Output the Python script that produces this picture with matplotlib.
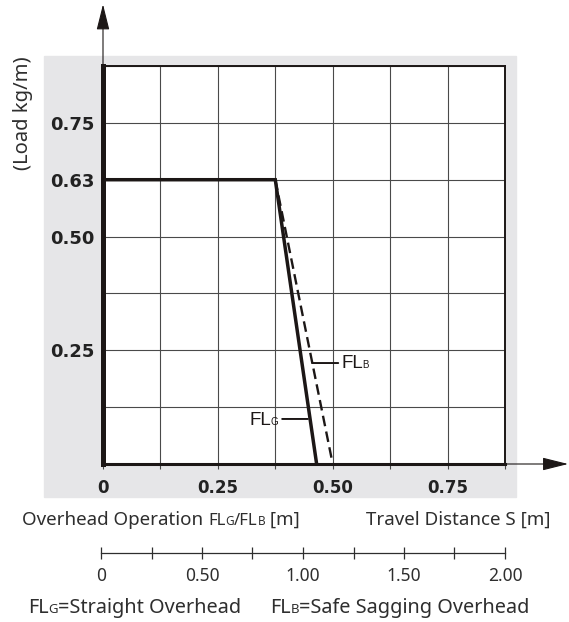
import numpy as np
import matplotlib
matplotlib.use("Agg")
import matplotlib.pyplot as plt
from matplotlib.patches import Rectangle
from matplotlib.transforms import IdentityTransform
from matplotlib.ticker import MultipleLocator

# chart values
load_ticks = [0.25, 0.5, 0.625, 0.75]
load_labels = ["0.25", "0.50", "0.63", "0.75"]
stroke_ticks = [0, 0.25, 0.5, 0.75]
stroke_labels = ["0", "0.25", "0.50", "0.75"]
flg_x = [0, 0.375, 0.465]
flg_y = [0.625, 0.625, 0]
flb_x = [0.375, 0.5]
flb_y = [0.625, 0]
travel_ticks = [0, 0.5, 1.0, 1.5, 2.0]
travel_labels = ["0", "0.50", "1.00", "1.50", "2.00"]

W, H = 569, 622
INK = "#1c1716"
LIGHT = "#2e2e2e"
LIGHT_FONT = dict(family="Noto Sans", fontweight="light", color=LIGHT)

fig = plt.figure(figsize=(W / 100, H / 100), dpi=100)
renderer = fig.canvas.get_renderer()


def fx(px):
    return px / W


def fy(py):
    return 1 - py / H


def pieces(x_px, y_px, parts, ha="left", kern=0.0, **kw):
    # draw consecutive text runs on a common baseline (pixel coords, origin top-left)
    texts = []
    cur = x_px
    for s, size in parts:
        t = fig.text(cur, H - y_px, s, transform=IdentityTransform(),
                     fontsize=size, va="baseline", ha="left", **kw)
        cur += t.get_window_extent(renderer).width + kern
        texts.append(t)
    if ha == "right":
        shift = cur - kern - x_px
        for t in texts:
            t.set_x(t.get_position()[0] - shift)
    return texts


# grey panel behind the chart
fig.patches.append(Rectangle((fx(44), fy(497)), (516 - 44) / W, (497 - 56) / H,
                             transform=fig.transFigure, color="#e6e6e8", zorder=-5))

ax = fig.add_axes([fx(103), fy(464), (505 - 103) / W, (464 - 66) / H], zorder=2)
ax.set_facecolor("white")
ax.set_xlim(0, 0.875)
ax.set_ylim(0, 0.875)

ax.xaxis.set_minor_locator(MultipleLocator(0.125))
ax.yaxis.set_minor_locator(MultipleLocator(0.125))
ax.set_xticks(stroke_ticks, stroke_labels)
ax.set_yticks(load_ticks, load_labels)
ax.grid(which="both", color="#4a4a4a", lw=0.8)
ax.set_axisbelow(True)

ax.tick_params(axis="x", which="both", direction="out", length=3.5, width=0.8,
               color="#4a4a4a", pad=7)
ax.tick_params(axis="x", labelsize=12)
ax.tick_params(axis="y", which="both", length=0, pad=5.8, labelsize=13)
for lab in ax.get_xticklabels() + ax.get_yticklabels():
    lab.set_fontweight("bold")
    lab.set_color("#222222")

for side, w in [("left", 3.6), ("bottom", 2.2), ("top", 1.4), ("right", 1.4)]:
    ax.spines[side].set_linewidth(w)
    ax.spines[side].set_color(INK)

ax.plot(flg_x, flg_y, color=INK, lw=2.5, solid_joinstyle="miter", clip_on=False, zorder=5)
ax.plot(flb_x, flb_y, color=INK, lw=1.7, ls=(0, (4.5, 2.3)), clip_on=False, zorder=4)

# axis arrows
arrow = dict(arrowstyle="-|>,head_length=1.6,head_width=0.4", mutation_scale=10,
             lw=0.8, color=INK, shrinkA=0, shrinkB=0)
ax.annotate("", xy=(0, 1.155), xytext=(0, 1.0), xycoords="axes fraction", arrowprops=arrow)
ax.annotate("", xy=(1.157, 0), xytext=(1.0, 0), xycoords="axes fraction", arrowprops=arrow)

# leader lines for the curve labels
leader = dict(arrowstyle="-", lw=1.4, color=INK, shrinkA=0, shrinkB=0)
ax.annotate("", xy=(0.455, 0.222), xytext=(0.512, 0.222), arrowprops=leader)
ax.annotate("", xy=(0.390, 0.099), xytext=(0.446, 0.099), arrowprops=leader)

lab_font = dict(family="Liberation Sans", color=INK, zorder=6)
bx, by = ax.transData.transform((0.520, 0.211))
pieces(bx, H - by, [("FL", 13.5), ("B", 7)], kern=-1.0, **lab_font)
gx, gy = ax.transData.transform((0.381, 0.0857))
pieces(gx, H - gy, [("FL", 13.5), ("G", 7)], ha="right", kern=-1.0, **lab_font)

# y axis title
fig.text(fx(23), fy(113), "(Load kg/m)", rotation=90, ha="center", va="center",
         fontsize=14.5, **LIGHT_FONT)

# x axis captions
pieces(22, 525, [("Overhead Operation ", 13.5), ("FL", 12), ("G", 8.5), ("/FL", 12),
                 ("B", 8.5), (" [m]", 13.5)], **LIGHT_FONT)
pieces(551, 525, [("Travel Distance S [m]", 13.5)], ha="right", **LIGHT_FONT)

# second scale for travel distance
ax2 = fig.add_axes([fx(101), fy(553), (505 - 101) / W, 0.0001])
ax2.set_xlim(0, 2.0)
ax2.set_ylim(0, 1)
ax2.set_facecolor("none")
for side in ["left", "right", "top"]:
    ax2.spines[side].set_visible(False)
ax2.spines["bottom"].set_linewidth(0.9)
ax2.spines["bottom"].set_color(LIGHT)
ax2.set_yticks([])
ax2.set_xticks(travel_ticks, travel_labels)
ax2.xaxis.set_minor_locator(MultipleLocator(0.25))
ax2.tick_params(axis="x", which="both", direction="inout", length=8.5, width=0.9,
                color=LIGHT, pad=6, labelsize=12.5, labelcolor=LIGHT)
for lab in ax2.get_xticklabels():
    lab.set_family("Noto Sans")
    lab.set_fontweight("light")

# legend text
pieces(28, 613, [("FL", 14.3), ("G", 9.5), ("=Straight Overhead", 14.3)], **LIGHT_FONT)
pieces(270, 613, [("FL", 14.3), ("B", 9.5), ("=Safe Sagging Overhead", 14.3)], **LIGHT_FONT)

fig.savefig("out.png", dpi=100)
